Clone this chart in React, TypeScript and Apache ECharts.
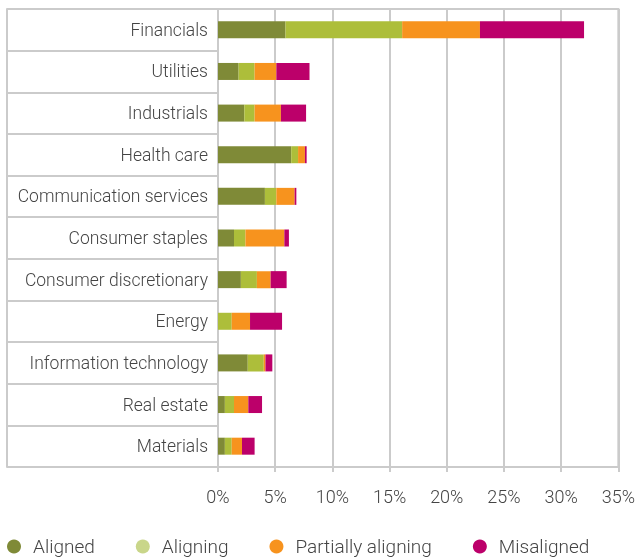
import React, { useEffect, useRef } from "react";
import * as echarts from "echarts";

const categories = [
  "Financials",
  "Utilities",
  "Industrials",
  "Health care",
  "Communication services",
  "Consumer staples",
  "Consumer discretionary",
  "Energy",
  "Information technology",
  "Real estate",
  "Materials",
];
const aligned = [5.9, 1.8, 2.3, 6.4, 4.1, 1.4, 2.0, 0, 2.6, 0.6, 0.6];
const aligning = [10.2, 1.4, 0.9, 0.6, 1.0, 1.0, 1.4, 1.2, 1.4, 0.8, 0.6];
const partiallyAligning = [6.8, 1.9, 2.3, 0.6, 1.6, 3.4, 1.2, 1.6, 0.15, 1.25, 0.9];
const misaligned = [9.1, 2.9, 2.2, 0.15, 0.15, 0.4, 1.4, 2.8, 0.6, 1.2, 1.1];
const xTicks = [0, 5, 10, 15, 20, 25, 30, 35];

const seriesDefs = [
  { name: "Aligned", data: aligned, color: "#7f8a37", legend: "#7f8a37" },
  { name: "Aligning", data: aligning, color: "#adbe3a", legend: "#c9d68a" },
  { name: "Partially aligning", data: partiallyAligning, color: "#f7931e", legend: "#f7931e" },
  { name: "Misaligned", data: misaligned, color: "#bc006a", legend: "#bc006a" },
];

const FONT = "Roboto";
const GRID = "#cbcbcb";
const TEXT = "#444444";

export default function App() {
  const ref = useRef<HTMLDivElement>(null);
  useEffect(() => {
    if (!ref.current) return;
    const chart = echarts.init(ref.current, null, { renderer: "svg" });
    chart.setOption({
      animation: false,
      textStyle: { fontFamily: FONT },
      grid: {
        left: 218,
        right: 18,
        top: 9,
        bottom: 92,
        show: true,
        borderColor: GRID,
        borderWidth: 2,
        containLabel: false,
      },
      legend: {
        left: 2,
        top: 532,
        icon: "circle",
        itemWidth: 28,
        itemHeight: 14,
        itemGap: 41,
        textStyle: { fontFamily: FONT, fontWeight: 300, fontSize: 19, color: TEXT },
        data: seriesDefs.map((s) => ({ name: s.name, itemStyle: { color: s.legend } })),
      },
      xAxis: {
        type: "value",
        min: xTicks[0],
        max: xTicks[xTicks.length - 1],
        interval: xTicks[1] - xTicks[0],
        axisLine: { show: true, lineStyle: { color: GRID, width: 2 } },
        axisTick: { show: true, length: 5, lineStyle: { color: GRID, width: 2 } },
        splitLine: { show: true, lineStyle: { color: GRID, width: 2 } },
        axisLabel: {
          margin: 20,
          fontFamily: FONT,
          fontWeight: 300,
          fontSize: 18,
          color: TEXT,
          formatter: "{value}%",
        },
      },
      yAxis: [
        {
          type: "category",
          inverse: true,
          data: categories,
          axisLine: { show: true, lineStyle: { color: GRID, width: 2 } },
          axisTick: {
            show: true,
            length: 211,
            alignWithLabel: false,
            lineStyle: { color: GRID, width: 2 },
          },
          axisLabel: {
            margin: 10,
            fontFamily: FONT,
            fontWeight: 300,
            fontSize: 17.5,
            color: TEXT,
          },
        },
        {
          type: "category",
          inverse: true,
          position: "left",
          offset: 211,
          data: categories,
          axisLine: { show: true, lineStyle: { color: GRID, width: 2 } },
          axisTick: { show: false },
          axisLabel: { show: false },
          splitLine: { show: false },
        },
      ],
      series: seriesDefs.map((s) => ({
        name: s.name,
        type: "bar",
        stack: "total",
        yAxisIndex: 0,
        barWidth: 17,
        itemStyle: { color: s.color },
        data: s.data,
      })),
    });
    return () => chart.dispose();
  }, []);
  return (
    <div
      ref={ref}
      style={{ position: "fixed", left: 0, top: 0, width: 638, height: 559 }}
    />
  );
}
